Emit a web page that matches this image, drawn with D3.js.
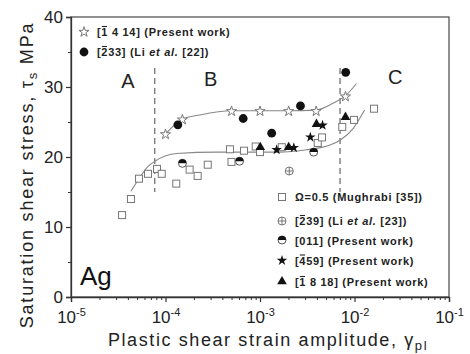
<!DOCTYPE html>
<html><head><meta charset="utf-8">
<script src="https://cdn.jsdelivr.net/npm/d3@7"></script>
<style>body{margin:0;background:#fff}svg{display:block}</style>
</head><body>
<svg id="c" width="470" height="354"></svg>
<script>
// ---- data (strain amplitude, shear stress MPa) ----
const mughrabiX = [3.47e-5,4.31e-5,5.24e-5,6.53e-5,8.13e-5,9.12e-5,1.30e-4,1.80e-4,2.19e-4,2.80e-4,4.81e-4,4.99e-4,6.77e-4,9.0e-4,1.0e-3,1.70e-3,4.08e-3,4.53e-3,7.42e-3,9.89e-3,1.61e-2];
const mughrabiY = [11.7,14.0,16.9,17.6,18.3,17.6,16.2,18.2,17.3,18.9,21.1,19.3,20.9,21.5,20.7,21.4,22.0,22.8,24.3,25.3,26.9];
const s1414X = [1.0e-4,1.51e-4,5.0e-4,1.0e-3,2.01e-3,3.93e-3,8.03e-3];
const s1414Y = [23.3,25.4,26.6,26.6,26.6,26.6,28.7];
const li22X = [1.35e-4,6.64e-4,1.33e-3,2.68e-3,8.07e-3];
const li22Y = [24.6,25.5,23.4,27.3,32.1];
const li23X = [2.04e-3];
const li23Y = [18.0];
const p011X = [1.51e-4,6.07e-4,3.70e-3];
const p011Y = [19.1,19.4,20.7];
const p459X = [1.50e-3,2.28e-3,3.41e-3,4.59e-3];
const p459Y = [21.1,21.4,22.9,24.6];
const p1818X = [1.007e-3,2.01e-3,3.96e-3,8.03e-3];
const p1818Y = [21.4,21.4,24.7,25.7];
// fitted curves
const upperFitX = [1.0e-4,1.51e-4,2.32e-4,5.0e-4,2.0e-3,3.9e-3,5.97e-3,8.1e-3,1.05e-2];
const upperFitY = [23.3,25.4,26.0,26.6,26.6,26.7,27.7,28.8,30.5];
const lowerFitX = [4.3e-5,5.24e-5,6.58e-5,7.74e-5,1.31e-4,3.48e-4,1.6e-3,2.99e-3,5.51e-3,7.03e-3,9.71e-3,1.28e-2];
const lowerFitY = [15.1,16.9,18.7,19.4,20.5,20.7,20.7,21.0,21.7,22.4,24.1,26.7];
// regime boundaries
const boundaryX = [7.7e-5, 7.03e-3];
const boundaryY = [15.0, 32.7];
const regionLabels = ["A","B","C"];
const regionX = [4.0e-5, 3.0e-4, 2.7e-2];
const regionY = [29.8, 30.2, 30.5];
const xTicks = [1e-5,1e-4,1e-3,1e-2,1e-1];
const xExp = ["-5","-4","-3","-2","-1"];
const yTicks = [0,10,20,30,40];
const yMinor = [5,15,25,35];

const svg = d3.select("#c");
const L=71,R=449,T=17,B=297;
const x = d3.scaleLog().domain([1e-5,1e-1]).range([L,R]);
const y = d3.scaleLinear().domain([0,40]).range([B,T]);
const FONT = "'Liberation Sans', Arial, sans-serif";
const AX = "#333";

// frame
svg.append("rect").attr("x",L).attr("y",T).attr("width",R-L).attr("height",B-T)
  .attr("fill","none").attr("stroke","#555").attr("stroke-width",1.3);

// minor x ticks
const xMinor = [];
for (let e=-5;e<-1;e++) for (let m=2;m<=9;m++) xMinor.push(m*Math.pow(10,e));
svg.append("g").attr("transform",`translate(0,${B})`)
  .call(d3.axisBottom(x).tickValues(xMinor).tickSize(3).tickFormat(""))
  .call(g=>{g.select(".domain").remove(); g.selectAll("line").attr("stroke",AX);});
const gx = svg.append("g").attr("transform",`translate(0,${B})`)
  .call(d3.axisBottom(x).tickValues(xTicks).tickSize(5).tickPadding(9).tickFormat(""));
gx.select(".domain").attr("stroke",AX).attr("stroke-width",1.3);
gx.selectAll("line").attr("stroke",AX).attr("stroke-width",1.2);
gx.selectAll(".tick text").each(function(d,i){
  const t=d3.select(this).attr("font-family",FONT).attr("font-size",17).attr("fill","#222");
  t.append("tspan").text("10");
  t.append("tspan").attr("font-size",11).attr("dy",-7).text(xExp[i]);
});

// y axis
svg.append("g").attr("transform",`translate(${L},0)`)
  .call(d3.axisLeft(y).tickValues(yMinor).tickSize(3).tickFormat(""))
  .call(g=>{g.select(".domain").remove(); g.selectAll("line").attr("stroke",AX);});
const gy = svg.append("g").attr("transform",`translate(${L},0)`)
  .call(d3.axisLeft(y).tickValues(yTicks).tickSize(5).tickPadding(3));
gy.select(".domain").attr("stroke",AX).attr("stroke-width",1.3);
gy.selectAll("line").attr("stroke",AX).attr("stroke-width",1.2);
gy.selectAll("text").attr("font-family",FONT).attr("font-size",17).attr("fill","#222");

// axis titles
const xl = svg.append("text").attr("x",268).attr("y",346).attr("text-anchor","middle")
  .attr("font-family",FONT).attr("font-size",18).attr("fill","#222").attr("letter-spacing",1.6);
xl.append("tspan").text("Plastic shear strain amplitude, γ");
xl.append("tspan").attr("font-size",13).attr("dy",4).text("pl");
const yl = svg.append("text").attr("transform","translate(33,175) rotate(-90)").attr("text-anchor","middle")
  .attr("font-family",FONT).attr("font-size",18).attr("fill","#222").attr("letter-spacing",1.8);
yl.append("tspan").text("Saturation shear stress, τ");
yl.append("tspan").attr("font-size",13).attr("dy",4).text("s");
yl.append("tspan").attr("dy",-4).text(" MPa");

// dashed boundaries
boundaryX.forEach(bx=>{
  svg.append("line").attr("x1",x(bx)).attr("x2",x(bx)).attr("y1",y(boundaryY[1])).attr("y2",y(boundaryY[0]))
    .attr("stroke","#666").attr("stroke-width",1.2).attr("stroke-dasharray","6,4");
});

// region labels
regionLabels.forEach((s,i)=>{
  svg.append("text").attr("x",x(regionX[i])).attr("y",y(regionY[i])).attr("text-anchor","middle")
    .attr("font-family",FONT).attr("font-size",20).attr("fill","#222").text(s);
});
svg.append("text").attr("x",80).attr("y",285).attr("font-family",FONT).attr("font-size",26).attr("fill","#111").text("Ag");

// fit curves
const line = d3.line().x(d=>x(d[0])).y(d=>y(d[1])).curve(d3.curveMonotoneX);
svg.append("path").attr("d",line(upperFitX.map((v,i)=>[v,upperFitY[i]])))
  .attr("fill","none").attr("stroke","#888").attr("stroke-width",1.1);
svg.append("path").attr("d",line(lowerFitX.map((v,i)=>[v,lowerFitY[i]])))
  .attr("fill","none").attr("stroke","#888").attr("stroke-width",1.1);

// marker drawers
const G="#777";
function square(g,cx,cy){g.append("rect").attr("x",cx-3.5).attr("y",cy-3.5).attr("width",7).attr("height",7).attr("fill","#fff").attr("stroke",G).attr("stroke-width",1);}
function openStar(g,cx,cy){g.append("path").attr("d",d3.symbol(d3.symbolStar,32)()).attr("transform",`translate(${cx},${cy+0.5})`).attr("fill","#fff").attr("stroke",G).attr("stroke-width",1);}
function fillStar(g,cx,cy){g.append("path").attr("d",d3.symbol(d3.symbolStar,34)()).attr("transform",`translate(${cx},${cy+0.5})`).attr("fill","#111");}
function dot(g,cx,cy){g.append("circle").attr("cx",cx).attr("cy",cy).attr("r",4.4).attr("fill","#111");}
function tri(g,cx,cy){g.append("path").attr("d",d3.symbol(d3.symbolTriangle,40)()).attr("transform",`translate(${cx},${cy})`).attr("fill","#111");}
function half(g,cx,cy){
  g.append("circle").attr("cx",cx).attr("cy",cy).attr("r",4).attr("fill","#fff").attr("stroke","#555").attr("stroke-width",1);
  g.append("path").attr("d",`M${cx-4},${cy}A4,4 0 0 1 ${cx+4},${cy}Z`).attr("fill","#111");
}
function cross(g,cx,cy){
  g.append("circle").attr("cx",cx).attr("cy",cy).attr("r",4).attr("fill","#fff").attr("stroke",G).attr("stroke-width",1);
  g.append("path").attr("d",`M${cx-4},${cy}H${cx+4}M${cx},${cy-4}V${cy+4}`).attr("stroke",G).attr("stroke-width",1);
}
const gp = svg.append("g");
mughrabiX.forEach((v,i)=>square(gp,x(v),y(mughrabiY[i])));
li23X.forEach((v,i)=>cross(gp,x(v),y(li23Y[i])));
p011X.forEach((v,i)=>half(gp,x(v),y(p011Y[i])));
s1414X.forEach((v,i)=>openStar(gp,x(v),y(s1414Y[i])));
li22X.forEach((v,i)=>dot(gp,x(v),y(li22Y[i])));
p1818X.forEach((v,i)=>tri(gp,x(v),y(p1818Y[i])));
p459X.forEach((v,i)=>fillStar(gp,x(v),y(p459Y[i])));

// legends (bar index = character to overline)
const LF = 11;
function legText(xx,yy,parts,bar){
  const t = svg.append("text").attr("x",xx).attr("y",yy).attr("font-family",FONT).attr("font-size",LF)
    .attr("font-weight","bold").attr("fill","#222").attr("letter-spacing",0.7);
  parts.forEach(p=>{const s=t.append("tspan").text(p.t); if(p.i) s.attr("font-style","italic");});
  if (bar!=null){
    const e = t.node().getExtentOfChar(bar);
    svg.append("line").attr("x1",e.x+0.5).attr("x2",e.x+e.width-1.2).attr("y1",yy-9.5).attr("y2",yy-9.5)
      .attr("stroke","#222").attr("stroke-width",1.1);
  }
}
const lg = svg.append("g");
openStar(lg,84,31.5); legText(97,36,[{t:"[1 4 14] (Present work)"}],1);
dot(lg,84,52);        legText(97,56,[{t:"[233] (Li "},{t:"et al.",i:1},{t:" [22])"}],1);
square(lg,282,197);   legText(295,201,[{t:"Ω=0.5 (Mughrabi [35])"}]);
cross(lg,282,221);    legText(295,225,[{t:"[239] (Li "},{t:"et al.",i:1},{t:" [23])"}],1);
half(lg,282,240);     legText(295,244.5,[{t:"[011] (Present work)"}]);
fillStar(lg,282,260); legText(295,264.5,[{t:"[459] (Present work)"}],1);
tri(lg,282,281.5);    legText(295,286,[{t:"[1 8 18] (Present work)"}],1);
</script>
</body></html>
